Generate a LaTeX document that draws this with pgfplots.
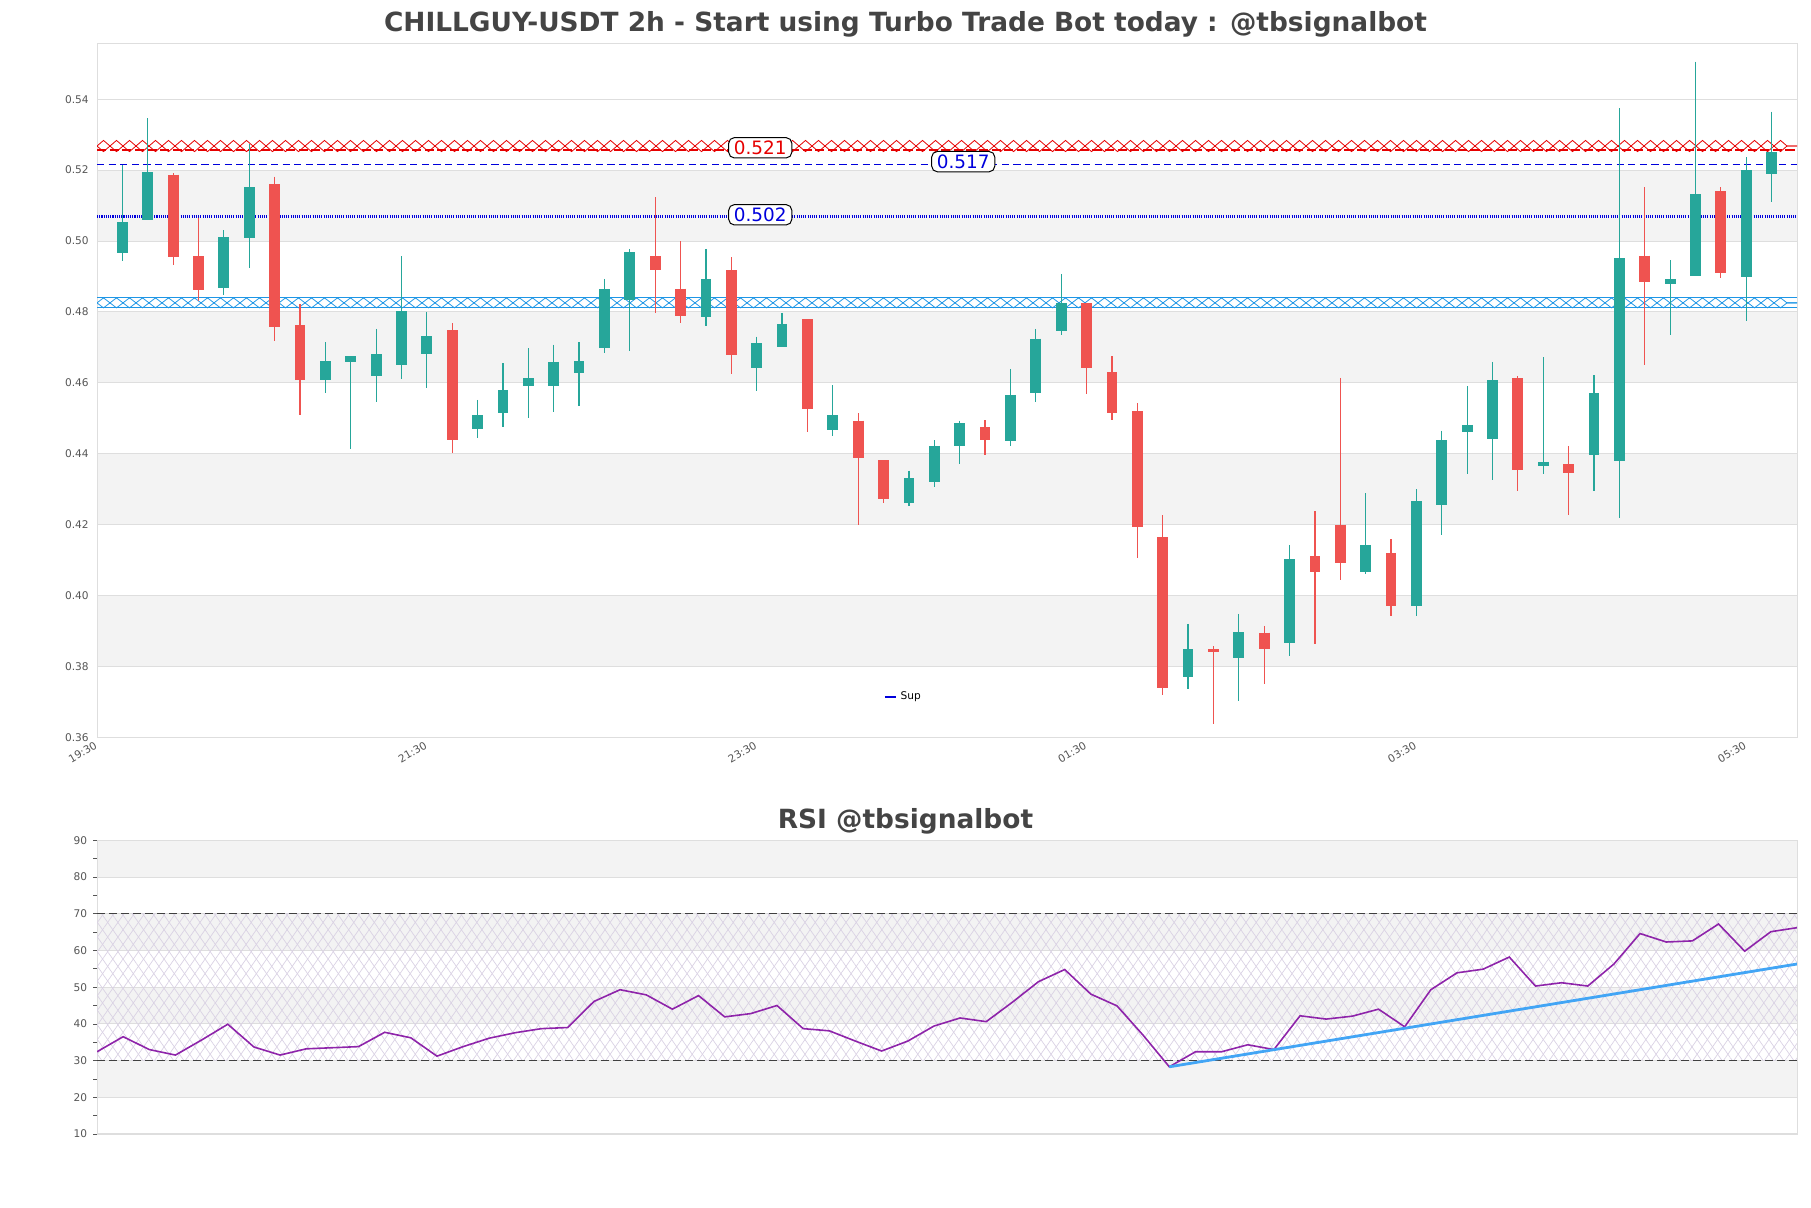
\documentclass[border=0pt]{standalone}
\usepackage{fontspec}
\setmainfont{DejaVu Sans}
\usepackage{pgfplots}
\usepackage{pgfplotstable}
\pgfplotsset{compat=1.18}
\usetikzlibrary{patterns.meta, decorations.pathmorphing}

\definecolor{upcol}{RGB}{38,166,154}
\definecolor{dncol}{RGB}{239,83,80}
\definecolor{bandgray}{RGB}{243,243,243}
\definecolor{gridgray}{RGB}{222,222,222}
\definecolor{labelgray}{RGB}{85,85,85}
\definecolor{titlegray}{RGB}{68,68,68}
\definecolor{resred}{RGB}{230,0,0}
\definecolor{supblue}{RGB}{0,0,220}
\definecolor{zoneblue}{RGB}{30,150,230}
\definecolor{rsipurple}{RGB}{142,36,170}
\definecolor{hatchcol}{RGB}{218,210,228}
\definecolor{trendblue}{RGB}{66,165,245}

% green candles: index open high low close
\pgfplotstableread{
i o h l c
0 0.4965 0.5215 0.4944 0.5053
1 0.5060 0.5346 0.5060 0.5194
4 0.4868 0.5030 0.4849 0.5011
5 0.5009 0.5274 0.4924 0.5152
8 0.4607 0.4715 0.4572 0.4661
9 0.4660 0.4675 0.4412 0.4675
10 0.4620 0.4752 0.4547 0.4681
11 0.4649 0.4957 0.4612 0.4802
12 0.4681 0.4800 0.4586 0.4732
14 0.4470 0.4552 0.4445 0.4509
15 0.4515 0.4655 0.4474 0.4579
16 0.4591 0.4698 0.4501 0.4613
17 0.4592 0.4708 0.4519 0.4659
18 0.4628 0.4715 0.4535 0.4661
19 0.4698 0.4893 0.4683 0.4864
20 0.4835 0.4978 0.4690 0.4968
23 0.4787 0.4978 0.4761 0.4893
25 0.4642 0.4730 0.4578 0.4712
26 0.4701 0.4797 0.4701 0.4766
28 0.4467 0.4593 0.4451 0.4509
31 0.4261 0.4352 0.4253 0.4331
32 0.4321 0.4438 0.4307 0.4422
33 0.4423 0.4493 0.4370 0.4486
35 0.4437 0.4639 0.4423 0.4566
36 0.4572 0.4752 0.4547 0.4725
37 0.4747 0.4907 0.4735 0.4825
42 0.3769 0.3920 0.3737 0.3849
44 0.3825 0.3948 0.3701 0.3897
46 0.3867 0.4143 0.3830 0.4102
49 0.4067 0.4289 0.4060 0.4143
51 0.3969 0.4300 0.3941 0.4266
52 0.4256 0.4465 0.4172 0.4438
53 0.4462 0.4591 0.4344 0.4481
54 0.4442 0.4659 0.4326 0.4607
56 0.4364 0.4672 0.4344 0.4377
58 0.4397 0.4622 0.4294 0.4571
59 0.4380 0.5375 0.4219 0.4952
61 0.4879 0.4946 0.4735 0.4893
62 0.4902 0.5506 0.4902 0.5132
64 0.4899 0.5236 0.4774 0.5200
65 0.5190 0.5365 0.5110 0.5250
}\upcandles

% red candles
\pgfplotstableread{
i o h l c
2 0.5187 0.5191 0.4933 0.4956
3 0.4957 0.5066 0.4830 0.4863
6 0.5160 0.5182 0.4717 0.4758
7 0.4763 0.4821 0.4510 0.4607
13 0.4748 0.4768 0.4402 0.4440
21 0.4957 0.5124 0.4796 0.4919
22 0.4866 0.5000 0.4768 0.4789
24 0.4918 0.4954 0.4626 0.4679
27 0.4779 0.4779 0.4460 0.4527
29 0.4493 0.4514 0.4200 0.4389
30 0.4382 0.4382 0.4260 0.4271
34 0.4475 0.4495 0.4397 0.4440
38 0.4825 0.4825 0.4569 0.4642
39 0.4630 0.4675 0.4495 0.4515
40 0.4520 0.4543 0.4107 0.4194
41 0.4165 0.4227 0.3718 0.3740
43 0.3849 0.3857 0.3638 0.3842
45 0.3895 0.3914 0.3749 0.3848
47 0.4111 0.4237 0.3862 0.4067
48 0.4200 0.4614 0.4044 0.4092
50 0.4120 0.4159 0.3941 0.3969
55 0.4613 0.4619 0.4296 0.4353
57 0.4370 0.4422 0.4226 0.4345
60 0.4959 0.5152 0.4650 0.4885
63 0.5141 0.5152 0.4895 0.4909
}\dncandles

\pgfplotstableread{
i r
0 32.4
1 36.5
2 33.0
3 31.5
4 35.6
5 39.9
6 33.7
7 31.5
8 33.2
9 33.5
10 33.8
11 37.7
12 36.2
13 31.2
14 33.8
15 36.1
16 37.6
17 38.7
18 39.0
19 46.1
20 49.3
21 47.9
22 44.0
23 47.7
24 41.9
25 42.8
26 45.0
27 38.7
28 38.1
29 35.3
30 32.6
31 35.3
32 39.4
33 41.6
34 40.6
35 45.9
36 51.5
37 54.8
38 48.1
39 44.9
40 36.9
41 28.3
42 32.4
43 32.4
44 34.3
45 33.0
46 42.2
47 41.3
48 42.1
49 44.0
50 39.2
51 49.3
52 53.9
53 54.9
54 58.2
55 50.3
56 51.2
57 50.3
58 56.3
59 64.6
60 62.3
61 62.6
62 67.2
63 59.8
64 65.1
65 66.2
}\rsidata

\pgfplotsset{
  wick/.style={draw=none, mark=none, forget plot,
    error bars/.cd, y dir=minus, y explicit, error mark=none,
    error bar style={draw=#1, line width=0.6pt}},
  body/.style={draw=none, mark=none, forget plot,
    error bars/.cd, y dir=minus, y explicit, error mark=none,
    error bar style={draw=#1, line width=5.4pt}},
  band/.style={forget plot, draw=none, fill=bandgray, on layer=axis background},
  chartaxis/.style={
    set layers, scale only axis, width=850pt,
    axis line style={draw=gridgray},
    ymajorgrids, grid style={draw=gridgray, line width=0.5pt},
    tick label style={font=\fontsize{5.3}{6}\selectfont, text=labelgray},
    /pgf/number format/assume math mode=true,
    clip=true,
  },
}

\newcommand{\lvl}[3]{\node[draw=black, fill=white, rounded corners=2.8pt, line width=0.5pt,
  inner xsep=2.6pt, inner ysep=1.6pt, text=#3, font=\fontsize{9.2}{10}\selectfont] at (axis cs:#1,#2)}

\begin{document}
\begin{tikzpicture}
\path (0,0) rectangle (905.5pt,604pt);

\node[font=\fontsize{13.2}{14}\selectfont\bfseries, text=titlegray] at (452.75pt,591.9pt)
  {CHILLGUY-USDT 2h - Start using Turbo Trade Bot today : @tbsignalbot};
\node[font=\fontsize{13.2}{14}\selectfont\bfseries, text=titlegray] at (452.75pt,193.4pt)
  {RSI @tbsignalbot};

\begin{axis}[
  chartaxis,
  at={(48.5pt,235.35pt)}, anchor=south west, height=346.85pt,
  xmin=-1, xmax=66, ymin=0.36, ymax=0.5557,
  ytick={0.36,0.38,0.40,0.42,0.44,0.46,0.48,0.50,0.52,0.54},
  yticklabel style={/pgf/number format/fixed, /pgf/number format/fixed zerofill,
    /pgf/number format/precision=2, xshift=-0.6pt},
  scaled y ticks=false,
  major tick length=0pt,
  xtick={-1,12,25,38,51,64},
  xticklabels={19:30,21:30,23:30,01:30,03:30,05:30},
  xticklabel style={rotate=30, anchor=north east, inner sep=0.6pt, xshift=-1.5pt},
  legend style={at={(0.475,0.058)}, anchor=center, draw=none, fill=none,
    font=\fontsize{5.3}{6}\selectfont, inner sep=0pt},
  legend image code/.code={\draw[#1] (0pt,0pt) -- (5.5pt,0pt);},
]
\addplot[band] coordinates {(-1,0.38) (66,0.38) (66,0.40) (-1,0.40)};
\addplot[band] coordinates {(-1,0.42) (66,0.42) (66,0.44) (-1,0.44)};
\addplot[band] coordinates {(-1,0.46) (66,0.46) (66,0.48) (-1,0.48)};
\addplot[band] coordinates {(-1,0.50) (66,0.50) (66,0.52) (-1,0.52)};

% resistance zone (red, hatched)
\addplot[forget plot, draw=resred, line width=0.4pt, decorate,
  decoration={zigzag, segment length=13pt, amplitude=2.8pt}] coordinates {(-1,0.5268) (66,0.5268)};
\addplot[forget plot, draw=resred, line width=0.4pt, decorate,
  decoration={zigzag, segment length=13pt, amplitude=2.8pt, mirror}] coordinates {(-1,0.5268) (66,0.5268)};
\addplot[forget plot, draw=resred, line width=1.2pt, dash pattern=on 4.6pt off 1.7pt] coordinates {(-1,0.5256) (66,0.5256)};

% support zone (light blue, hatched)
\addplot[forget plot, draw=zoneblue, line width=0.4pt, decorate,
  decoration={zigzag, segment length=13pt, amplitude=2.5pt}] coordinates {(-1,0.48255) (66,0.48255)};
\addplot[forget plot, draw=zoneblue, line width=0.4pt, decorate,
  decoration={zigzag, segment length=13pt, amplitude=2.5pt, mirror}] coordinates {(-1,0.48255) (66,0.48255)};
\addplot[forget plot, draw=zoneblue, line width=0.45pt] coordinates {(-1,0.4840) (66,0.4840)};
\addplot[forget plot, draw=zoneblue, line width=0.45pt] coordinates {(-1,0.4812) (66,0.4812)};

% level lines
\addplot[forget plot, draw=supblue, line width=0.5pt, dash pattern=on 3.6pt off 2.2pt] coordinates {(-1,0.5216) (66,0.5216)};
\addplot[forget plot, draw=supblue, line width=1.1pt, dash pattern=on 0.55pt off 0.55pt] coordinates {(-1,0.5069) (66,0.5069)};

% candles
\addplot[wick=upcol] table[x=i, y=h, y error minus expr=\thisrow{h}-\thisrow{l}] \upcandles;
\addplot[wick=dncol] table[x=i, y=h, y error minus expr=\thisrow{h}-\thisrow{l}] \dncandles;
\addplot[body=upcol] table[x=i, y=c, y error minus expr=\thisrow{c}-\thisrow{o}] \upcandles;
\addplot[body=dncol] table[x=i, y=o, y error minus expr=\thisrow{o}-\thisrow{c}] \dncandles;

\lvl{25.14}{0.5263}{resred} {0.521};
\lvl{33.14}{0.5224}{supblue} {0.517};
\lvl{25.14}{0.5074}{supblue} {0.502};

\addlegendimage{draw=supblue, line width=0.7pt}
\addlegendentry{Sup}
\end{axis}

\begin{axis}[
  chartaxis,
  at={(48.5pt,37pt)}, anchor=south west, height=146.85pt,
  xmin=0, xmax=65, ymin=10, ymax=90,
  ytick={10,20,...,90},
  minor ytick={15,25,...,85},
  xtick=\empty,
  tick align=outside,
  ytick pos=left,
  major tick length=1.8pt, minor tick length=1.8pt,
  tick style={draw=labelgray, line width=0.3pt},
  yticklabel style={xshift=0.4pt},
]
\addplot[band] coordinates {(0,20) (65,20) (65,30) (0,30)};
\addplot[band] coordinates {(0,40) (65,40) (65,50) (0,50)};
\addplot[band] coordinates {(0,60) (65,60) (65,70) (0,70)};
\addplot[band] coordinates {(0,80) (65,80) (65,90) (0,90)};
\addplot[forget plot, draw=none, pattern={Lines[angle=55, distance=4.2pt, line width=0.35pt]}, pattern color=hatchcol]
  coordinates {(0,30) (65,30) (65,70) (0,70)};
\addplot[forget plot, draw=none, pattern={Lines[angle=-55, distance=4.2pt, line width=0.35pt]}, pattern color=hatchcol]
  coordinates {(0,30) (65,30) (65,70) (0,70)};
\addplot[forget plot, draw=black!75, line width=0.55pt, dash pattern=on 4pt off 2pt] coordinates {(0,70) (65,70)};
\addplot[forget plot, draw=black!75, line width=0.55pt, dash pattern=on 4pt off 2pt] coordinates {(0,30) (65,30)};
\addplot[forget plot, draw=rsipurple, line width=0.8pt] table[x=i, y=r] \rsidata;
\addplot[forget plot, draw=trendblue, line width=1.4pt] coordinates {(41,28.3) (65,56.3)};
\end{axis}
\end{tikzpicture}
\end{document}
